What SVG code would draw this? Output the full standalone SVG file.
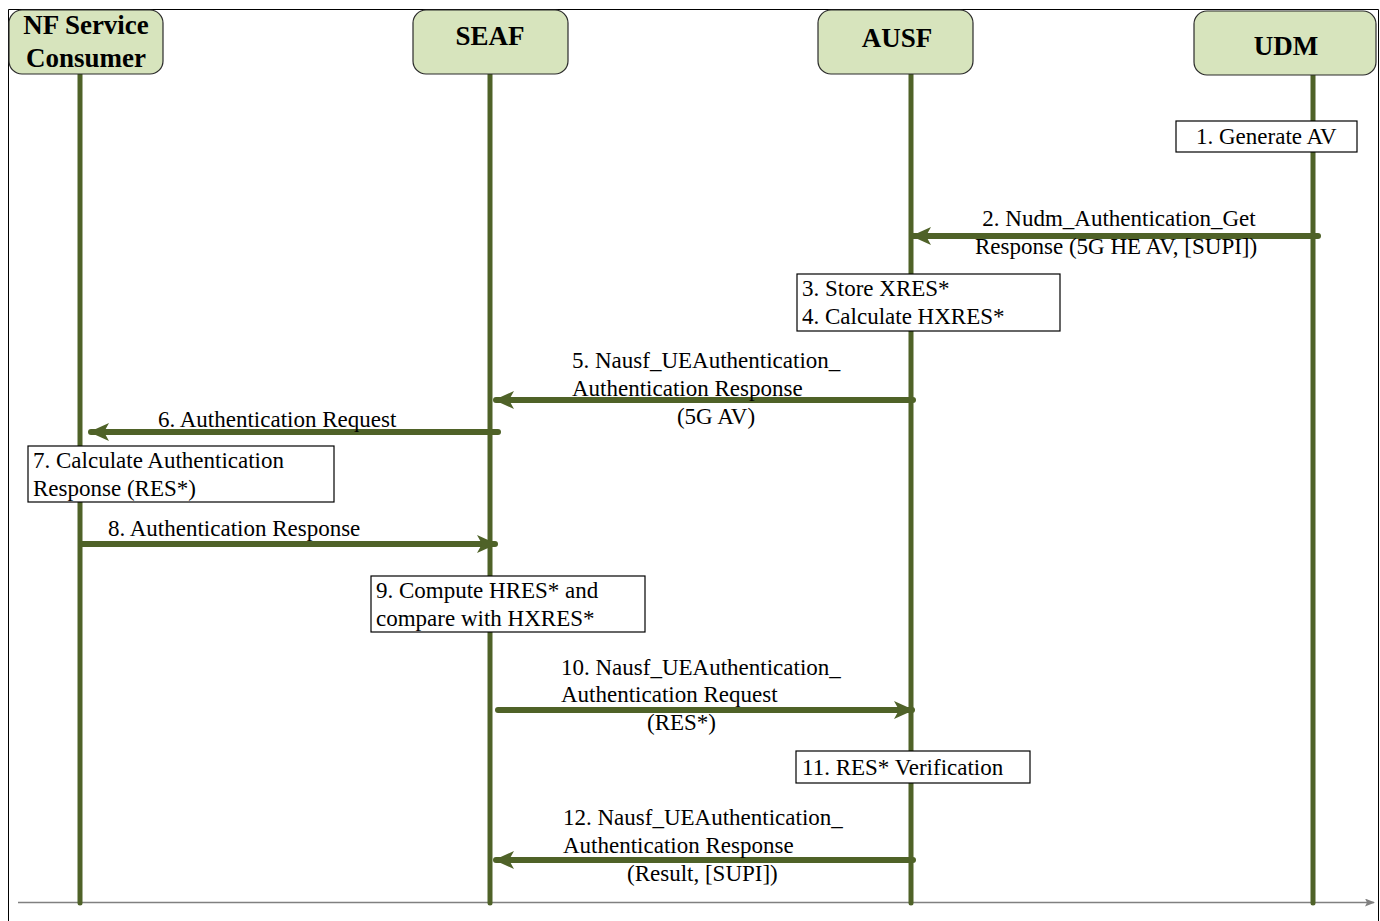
<svg xmlns="http://www.w3.org/2000/svg" width="1380" height="921" viewBox="0 0 1380 921">
<defs>
<style>
.hdr{fill:#D7E4BD;stroke:#2b2b2b;stroke-width:1.2}
.ht{font-family:"Liberation Serif","Times New Roman",serif;font-weight:bold;font-size:27px;fill:#000;text-anchor:middle}
.life{stroke:#4F6228;stroke-width:5;stroke-linecap:round}
.msg{stroke:#4F6228;stroke-width:6;stroke-linecap:round;fill:none}
.note{fill:#fff;stroke:#000;stroke-width:1.2}
.t{font-family:"Liberation Serif","Times New Roman",serif;font-size:23px;fill:#000}
</style>
<marker id="ah" markerUnits="userSpaceOnUse" viewBox="0 0 20 18" refX="18" refY="9" markerWidth="20" markerHeight="18" orient="auto">
<path d="M0,0 L20,9 L0,18 L5,9 Z" fill="#4F6228"/>
</marker>
<marker id="ga" markerUnits="userSpaceOnUse" viewBox="0 0 10 8" refX="9" refY="4" markerWidth="10" markerHeight="8" orient="auto">
<path d="M0,0 L10,4 L0,8 L2,4 Z" fill="#808080"/>
</marker>
</defs>
<rect width="1380" height="921" fill="#fff"/>
<path d="M8.5,921 V9.5 H1378.5 V921" fill="none" stroke="#000" stroke-width="1"/>
<line x1="18" y1="902.5" x2="1374" y2="902.5" stroke="#808080" stroke-width="1.5" marker-end="url(#ga)"/>

<g id="lifelines">
<line class="life" x1="80" y1="74" x2="80" y2="903"/>
<line class="life" x1="490" y1="74" x2="490" y2="903"/>
<line class="life" x1="911" y1="74" x2="911" y2="903"/>
<line class="life" x1="1313" y1="75" x2="1313" y2="903"/>
</g>

<g id="node-nf">
<rect class="hdr" x="9" y="10" width="154" height="64" rx="13"/>
<text class="ht" x="86" y="34">NF Service</text>
<text class="ht" x="86" y="67">Consumer</text>
</g>
<g id="node-seaf">
<rect class="hdr" x="413" y="10" width="155" height="64" rx="13"/>
<text class="ht" x="490" y="45">SEAF</text>
</g>
<g id="node-ausf">
<rect class="hdr" x="818" y="10" width="155" height="64" rx="13"/>
<text class="ht" x="897" y="47">AUSF</text>
</g>
<g id="node-udm">
<rect class="hdr" x="1194" y="11" width="182" height="64" rx="13"/>
<text class="ht" x="1286" y="55">UDM</text>
</g>

<g id="connectors">
<line class="msg" x1="1318" y1="236" x2="913" y2="236" marker-end="url(#ah)"/>
<line class="msg" x1="913" y1="400" x2="496" y2="400" marker-end="url(#ah)"/>
<line class="msg" x1="498" y1="432" x2="91" y2="432" marker-end="url(#ah)"/>
<line class="msg" x1="82" y1="544" x2="495" y2="544" marker-end="url(#ah)"/>
<line class="msg" x1="498" y1="710" x2="912" y2="710" marker-end="url(#ah)"/>
<line class="msg" x1="913" y1="860" x2="496" y2="860" marker-end="url(#ah)"/>
</g>

<g id="labels">
<text class="t" x="1119" y="226" text-anchor="middle">2. Nudm_Authentication_Get</text>
<text class="t" x="975" y="254">Response (5G HE AV, [SUPI])</text>
<text class="t" x="572" y="368">5. Nausf_UEAuthentication_</text>
<text class="t" x="572" y="396">Authentication Response</text>
<text class="t" x="716" y="424" text-anchor="middle">(5G AV)</text>
<text class="t" x="158" y="427">6. Authentication Request</text>
<text class="t" x="108" y="536">8. Authentication Response</text>
<text class="t" x="561" y="675">10. Nausf_UEAuthentication_</text>
<text class="t" x="561" y="702">Authentication Request</text>
<text class="t" x="647" y="730">(RES*)</text>
<text class="t" x="563" y="825">12. Nausf_UEAuthentication_</text>
<text class="t" x="563" y="853">Authentication Response</text>
<text class="t" x="627" y="881">(Result, [SUPI])</text>
</g>

<g id="note-1">
<rect class="note" x="1176" y="121" width="181" height="31"/>
<text class="t" x="1196" y="144">1. Generate AV</text>
</g>
<g id="note-3-4">
<rect class="note" x="797" y="274" width="263" height="57"/>
<text class="t" x="802" y="296">3. Store XRES*</text>
<text class="t" x="802" y="324">4. Calculate HXRES*</text>
</g>
<g id="note-7">
<rect class="note" x="28" y="446" width="306" height="56"/>
<text class="t" x="33" y="468">7. Calculate Authentication</text>
<text class="t" x="33" y="496">Response (RES*)</text>
</g>
<g id="note-9">
<rect class="note" x="371" y="576" width="274" height="56"/>
<text class="t" x="376" y="598">9. Compute HRES* and</text>
<text class="t" x="376" y="626">compare with HXRES*</text>
</g>
<g id="note-11">
<rect class="note" x="796" y="751" width="234" height="32"/>
<text class="t" x="802" y="775">11. RES* Verification</text>
</g>
</svg>
